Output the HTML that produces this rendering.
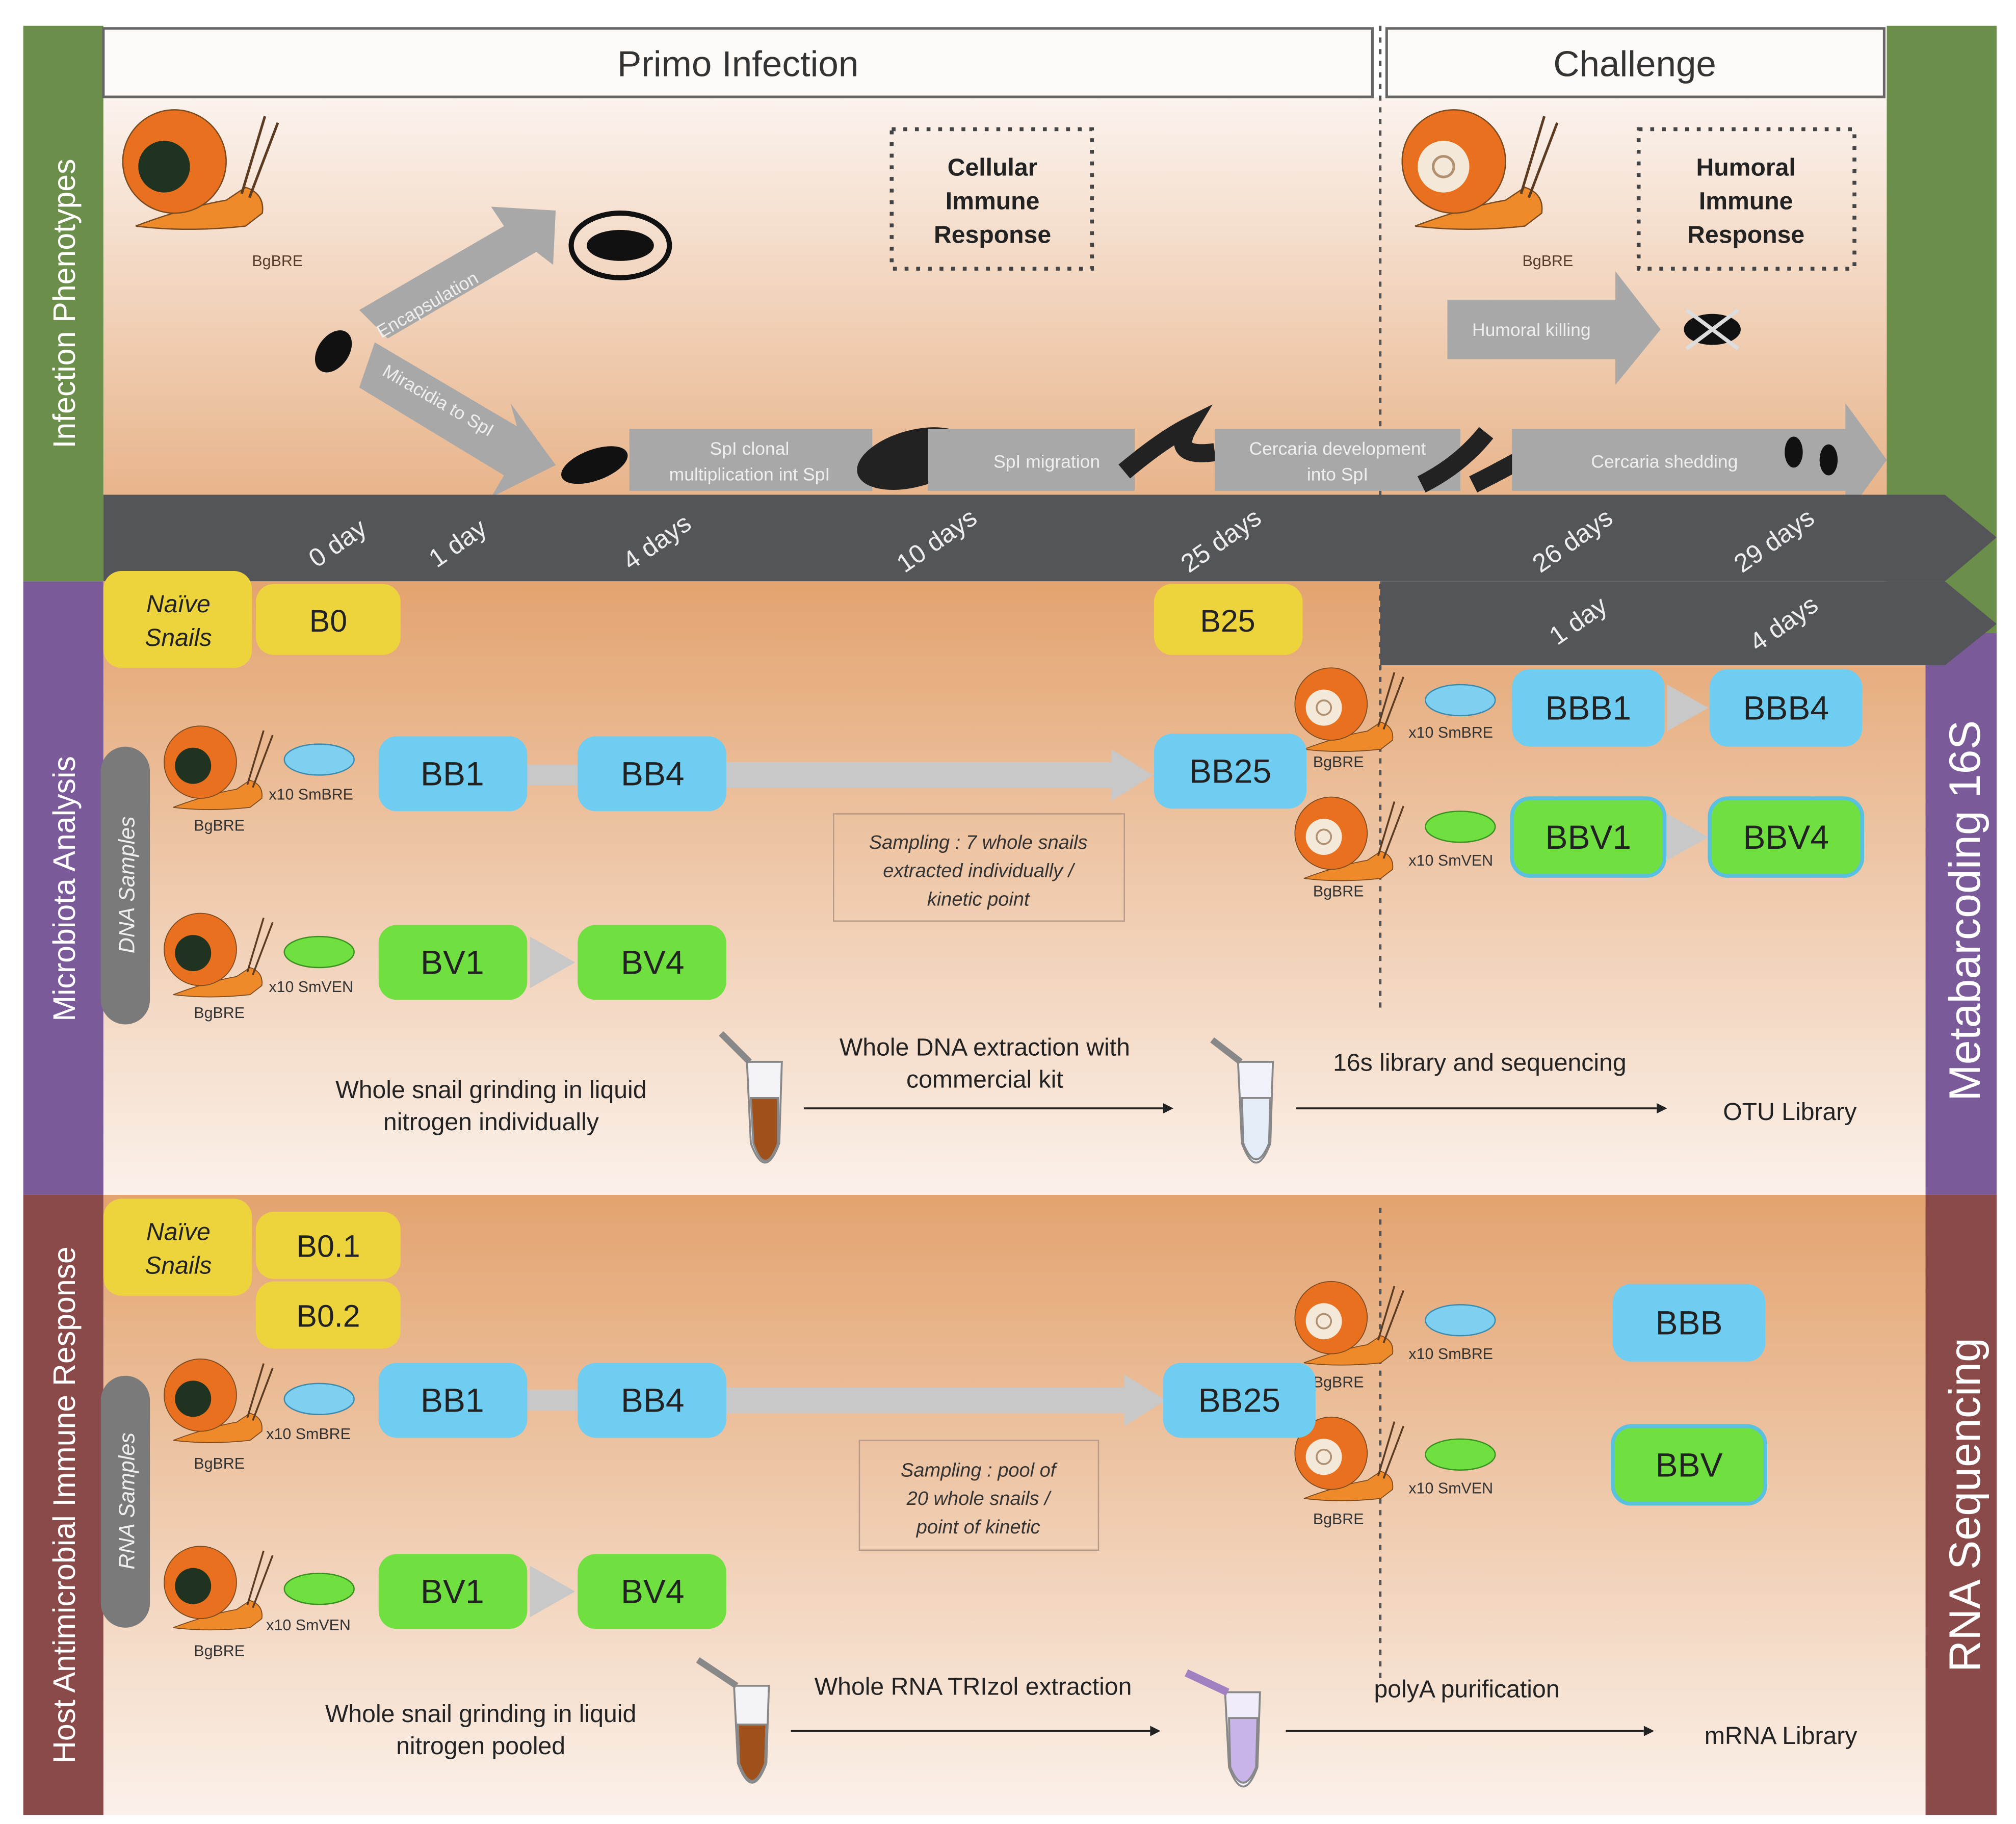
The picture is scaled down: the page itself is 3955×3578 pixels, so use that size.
<!DOCTYPE html>
<html><head><meta charset="utf-8"><style>
html,body{margin:0;padding:0;background:#fff}
svg{display:block}
text{font-family:"Liberation Sans",sans-serif}
</style></head><body>
<svg width="3955" height="3578" viewBox="0 0 1560 1412" preserveAspectRatio="none" xmlns="http://www.w3.org/2000/svg">
<defs>
<linearGradient id="g1" x1="0" y1="0" x2="0" y2="1"><stop offset="0" stop-color="#fbf3ee"/><stop offset="1" stop-color="#e8b48a"/></linearGradient>
<linearGradient id="g2" x1="0" y1="0" x2="0" y2="1"><stop offset="0" stop-color="#e3a36f"/><stop offset="1" stop-color="#fbf1ea"/></linearGradient>
<g id="snail">
<path d="M-30,50 Q10,35 40,30 L55,20 Q70,25 68,40 L55,50 Q10,55 -30,50Z" fill="#ee8a2a" stroke="#7a4a20" stroke-width="1"/>
<circle cx="0" cy="0" r="40" fill="#e8701e" stroke="#7a4a20" stroke-width="1"/>
<circle cx="-8" cy="4" r="20" fill="#1f3320"/>
<path d="M52,25 L70,-35 M58,28 L80,-30" stroke="#5a3a20" stroke-width="2" fill="none"/>
</g>
<g id="snail2">
<path d="M-30,50 Q10,35 40,30 L55,20 Q70,25 68,40 L55,50 Q10,55 -30,50Z" fill="#ee8a2a" stroke="#7a4a20" stroke-width="1"/>
<circle cx="0" cy="0" r="40" fill="#e8701e" stroke="#7a4a20" stroke-width="1"/>
<circle cx="-8" cy="4" r="20" fill="#f4e8d8"/>
<circle cx="-8" cy="4" r="8" fill="none" stroke="#b09070" stroke-width="2"/>
<path d="M52,25 L70,-35 M58,28 L80,-30" stroke="#5a3a20" stroke-width="2" fill="none"/>
</g>
</defs>
<rect width="1560" height="1412" fill="#fff"/>
<!-- backgrounds -->
<rect x="80" y="75" width="1380" height="310" fill="url(#g1)"/>
<rect x="80" y="450" width="1410" height="475" fill="url(#g2)"/>
<rect x="80" y="925" width="1410" height="480" fill="url(#g2)"/>
<!-- side bands -->
<rect x="18" y="20" width="62" height="430" fill="#6b8f4a"/>
<rect x="18" y="450" width="62" height="475" fill="#7b5a9a"/>
<rect x="18" y="925" width="62" height="480" fill="#8a4a4a"/>
<rect x="1460" y="20" width="85" height="470" fill="#6b8f4a"/>
<rect x="1490" y="490" width="55" height="435" fill="#7b5a9a"/>
<rect x="1490" y="925" width="55" height="480" fill="#8a4a4a"/>
<text transform="translate(58,235) rotate(-90)" text-anchor="middle" font-size="24" fill="#fff">Infection Phenotypes</text>
<text transform="translate(58,688) rotate(-90)" text-anchor="middle" font-size="24" fill="#fff">Microbiota Analysis</text>
<text transform="translate(58,1165) rotate(-90)" text-anchor="middle" font-size="24" fill="#fff">Host Antimicrobial Immune Response</text>
<text transform="translate(1532,705) rotate(-90)" text-anchor="middle" font-size="34" fill="#fff">Metabarcoding 16S</text>
<text transform="translate(1532,1165) rotate(-90)" text-anchor="middle" font-size="34" fill="#fff">RNA Sequencing</text>
<!-- headers -->
<rect x="80" y="22" width="982" height="53" fill="#fdfaf7" stroke="#666" stroke-width="2"/>
<text x="571" y="59" text-anchor="middle" font-size="28" fill="#333">Primo Infection</text>
<rect x="1073" y="22" width="385" height="53" fill="#fdfaf7" stroke="#666" stroke-width="2"/>
<text x="1265" y="59" text-anchor="middle" font-size="28" fill="#333">Challenge</text>
<line x1="1068" y1="20" x2="1068" y2="780" stroke="#555" stroke-width="2" stroke-dasharray="4,5"/>
<line x1="1068" y1="935" x2="1068" y2="1300" stroke="#555" stroke-width="2" stroke-dasharray="4,5"/>
<!-- top section -->
<use href="#snail" x="135" y="125"/>
<text x="195" y="206" font-size="12" fill="#5a3a2a">BgBRE</text>
<use href="#snail2" x="1125" y="125"/>
<text x="1178" y="206" font-size="12" fill="#5a3a2a">BgBRE</text>
<rect x="690" y="100" width="155" height="108" fill="none" stroke="#444" stroke-width="3" stroke-dasharray="3,6"/>
<text x="768" y="136" text-anchor="middle" font-size="19" font-weight="bold" fill="#222">Cellular</text>
<text x="768" y="162" text-anchor="middle" font-size="19" font-weight="bold" fill="#222">Immune</text>
<text x="768" y="188" text-anchor="middle" font-size="19" font-weight="bold" fill="#222">Response</text>
<rect x="1268" y="100" width="167" height="108" fill="none" stroke="#444" stroke-width="3" stroke-dasharray="3,6"/>
<text x="1351" y="136" text-anchor="middle" font-size="19" font-weight="bold" fill="#222">Humoral</text>
<text x="1351" y="162" text-anchor="middle" font-size="19" font-weight="bold" fill="#222">Immune</text>
<text x="1351" y="188" text-anchor="middle" font-size="19" font-weight="bold" fill="#222">Response</text>
<!-- encapsulation arrow -->
<polygon points="278,240 390,175 380,160 430,163 428,205 415,195 300,262" fill="#a8a8a8"/>
<text transform="translate(295,262) rotate(-30)" font-size="14" fill="#eee">Encapsulation</text>
<polygon points="290,265 400,330 395,312 430,360 380,385 390,368 278,300" fill="#a8a8a8"/>
<text transform="translate(295,290) rotate(30)" font-size="14" fill="#eee">Miracidia to SpI</text>
<ellipse cx="258" cy="272" rx="12" ry="18" transform="rotate(35,258,272)" fill="#111"/>
<ellipse cx="480" cy="190" rx="38" ry="25" fill="none" stroke="#111" stroke-width="4"/>
<ellipse cx="480" cy="190" rx="26" ry="12" fill="#111"/>
<ellipse cx="460" cy="360" rx="27" ry="12" transform="rotate(-20,460,360)" fill="#111"/>
<rect x="487" y="332" width="188" height="48" fill="#a8a8a8"/>
<text x="580" y="352" text-anchor="middle" font-size="14" fill="#eee">SpI clonal</text>
<text x="580" y="372" text-anchor="middle" font-size="14" fill="#eee">multiplication int SpI</text>
<ellipse cx="707" cy="355" rx="45" ry="22" transform="rotate(-15,707,355)" fill="#222"/>
<rect x="718" y="332" width="160" height="48" fill="#a8a8a8"/>
<text x="810" y="362" text-anchor="middle" font-size="14" fill="#eee">SpI migration</text>
<path d="M870,365 Q900,340 920,330 Q905,355 940,350" stroke="#222" stroke-width="14" fill="none"/>
<rect x="940" y="332" width="190" height="48" fill="#a8a8a8"/>
<text x="1035" y="352" text-anchor="middle" font-size="14" fill="#eee">Cercaria development</text>
<text x="1035" y="372" text-anchor="middle" font-size="14" fill="#eee">into SpI</text>
<path d="M1100,375 Q1130,360 1150,335 M1140,375 Q1170,360 1195,345" stroke="#222" stroke-width="14" fill="none"/>
<polygon points="1170,332 1428,332 1428,312 1460,356 1428,400 1428,380 1170,380" fill="#a8a8a8"/>
<text x="1288" y="362" text-anchor="middle" font-size="14" fill="#eee">Cercaria shedding</text>
<ellipse cx="1388" cy="350" rx="7" ry="12" fill="#111"/><ellipse cx="1415" cy="356" rx="7" ry="12" fill="#111"/>
<polygon points="1120,232 1250,232 1250,210 1285,255 1250,298 1250,278 1120,278" fill="#a8a8a8"/>
<text x="1185" y="260" text-anchor="middle" font-size="14" fill="#eee">Humoral killing</text>
<ellipse cx="1325" cy="255" rx="22" ry="12" fill="#111"/>
<path d="M1305,240 L1345,270 M1345,240 L1305,270" stroke="#ddd" stroke-width="3"/>
<!-- timelines -->
<polygon points="80,383 1505,383 1545,416 1505,450 80,450" fill="#545558"/>
<polygon points="1068,450 1505,450 1545,483 1505,515 1068,515" fill="#545558"/>
<g font-size="20" fill="#eee">
<text transform="translate(245,440) rotate(-35)">0 day</text>
<text transform="translate(338,440) rotate(-35)">1 day</text>
<text transform="translate(488,442) rotate(-35)">4 days</text>
<text transform="translate(700,444) rotate(-35)">10 days</text>
<text transform="translate(920,444) rotate(-35)">25 days</text>
<text transform="translate(1192,444) rotate(-35)">26 days</text>
<text transform="translate(1348,444) rotate(-35)">29 days</text>
<text transform="translate(1205,500) rotate(-35)">1 day</text>
<text transform="translate(1360,505) rotate(-35)">4 days</text>
</g>
<!-- section 2 -->
<g font-size="24" fill="#222" text-anchor="middle">
<rect x="80" y="442" width="115" height="75" rx="14" fill="#eed43c"/>
<text x="138" y="474" font-size="19" font-style="italic">Naïve</text><text x="138" y="500" font-size="19" font-style="italic">Snails</text>
<rect x="198" y="452" width="112" height="55" rx="14" fill="#eed43c"/><text x="254" y="489">B0</text>
<rect x="893" y="452" width="115" height="55" rx="14" fill="#eed43c"/><text x="950" y="489">B25</text>
<rect x="80" y="928" width="115" height="75" rx="14" fill="#eed43c"/>
<text x="138" y="960" font-size="19" font-style="italic">Naïve</text><text x="138" y="986" font-size="19" font-style="italic">Snails</text>
<rect x="198" y="938" width="112" height="52" rx="14" fill="#eed43c"/><text x="254" y="973">B0.1</text>
<rect x="198" y="992" width="112" height="52" rx="14" fill="#eed43c"/><text x="254" y="1027">B0.2</text>
</g>
<rect x="78" y="578" width="38" height="215" rx="19" fill="#7a7a7a"/>
<text transform="translate(104,685) rotate(-90)" text-anchor="middle" font-size="17" font-style="italic" fill="#eee">DNA Samples</text>
<rect x="78" y="1065" width="38" height="195" rx="19" fill="#7a7a7a"/>
<text transform="translate(104,1162) rotate(-90)" text-anchor="middle" font-size="17" font-style="italic" fill="#eee">RNA Samples</text>
<use href="#snail" transform="translate(155,590) scale(0.7)"/>
<use href="#snail" transform="translate(155,735) scale(0.7)"/>
<use href="#snail" transform="translate(155,1080) scale(0.7)"/>
<use href="#snail" transform="translate(155,1225) scale(0.7)"/>
<use href="#snail2" transform="translate(1030,545) scale(0.7)"/>
<use href="#snail2" transform="translate(1030,645) scale(0.7)"/>
<use href="#snail2" transform="translate(1030,1020) scale(0.7)"/>
<use href="#snail2" transform="translate(1030,1125) scale(0.7)"/>
<g font-size="12" fill="#333">
<text x="150" y="643">BgBRE</text><text x="150" y="788">BgBRE</text><text x="150" y="1137">BgBRE</text><text x="150" y="1282">BgBRE</text>
<text x="1016" y="594">BgBRE</text><text x="1016" y="694">BgBRE</text><text x="1016" y="1074">BgBRE</text><text x="1016" y="1180">BgBRE</text>
<text x="208" y="619">x10 SmBRE</text><text x="208" y="768">x10 SmVEN</text><text x="206" y="1114">x10 SmBRE</text><text x="206" y="1262">x10 SmVEN</text>
<text x="1090" y="571">x10 SmBRE</text><text x="1090" y="670">x10 SmVEN</text><text x="1090" y="1052">x10 SmBRE</text><text x="1090" y="1156">x10 SmVEN</text>
</g>
<g>
<ellipse cx="247" cy="588" rx="27" ry="12" fill="#7fd0f0" stroke="#3a8ab0"/>
<ellipse cx="247" cy="737" rx="27" ry="12" fill="#6fe040" stroke="#3a9020"/>
<ellipse cx="247" cy="1083" rx="27" ry="12" fill="#7fd0f0" stroke="#3a8ab0"/>
<ellipse cx="247" cy="1230" rx="27" ry="12" fill="#6fe040" stroke="#3a9020"/>
<ellipse cx="1130" cy="542" rx="27" ry="12" fill="#7fd0f0" stroke="#3a8ab0"/>
<ellipse cx="1130" cy="640" rx="27" ry="12" fill="#6fe040" stroke="#3a9020"/>
<ellipse cx="1130" cy="1022" rx="27" ry="12" fill="#7fd0f0" stroke="#3a8ab0"/>
<ellipse cx="1130" cy="1126" rx="27" ry="12" fill="#6fe040" stroke="#3a9020"/>
</g>
<!-- connectors -->
<rect x="405" y="592" width="45" height="16" fill="#c8c8c8"/>
<polygon points="560,590 860,590 860,580 892,600 860,620 860,610 560,610" fill="#c8c8c8"/>
<polygon points="410,725 445,745 410,765" fill="#c8c8c8"/>
<polygon points="1290,530 1322,548 1290,566" fill="#c8c8c8"/>
<polygon points="1290,630 1322,648 1290,666" fill="#c8c8c8"/>
<rect x="405" y="1076" width="45" height="16" fill="#c8c8c8"/>
<polygon points="560,1074 870,1074 870,1064 902,1084 870,1104 870,1094 560,1094" fill="#c8c8c8"/>
<polygon points="410,1212 445,1232 410,1252" fill="#c8c8c8"/>
<g font-size="26" fill="#222" text-anchor="middle">
<rect x="293" y="570" width="115" height="58" rx="14" fill="#6fcdf2"/><text x="350" y="608">BB1</text>
<rect x="447" y="570" width="115" height="58" rx="14" fill="#6fcdf2"/><text x="505" y="608">BB4</text>
<rect x="893" y="568" width="118" height="58" rx="14" fill="#6fcdf2"/><text x="952" y="606">BB25</text>
<rect x="1170" y="518" width="118" height="60" rx="14" fill="#6fcdf2"/><text x="1229" y="557">BBB1</text>
<rect x="1323" y="518" width="118" height="60" rx="14" fill="#6fcdf2"/><text x="1382" y="557">BBB4</text>
<rect x="1170" y="618" width="118" height="60" rx="14" fill="#6fe040" stroke="#5ac0e0" stroke-width="3"/><text x="1229" y="657">BBV1</text>
<rect x="1323" y="618" width="118" height="60" rx="14" fill="#6fe040" stroke="#5ac0e0" stroke-width="3"/><text x="1382" y="657">BBV4</text>
<rect x="293" y="716" width="115" height="58" rx="14" fill="#6fe040"/><text x="350" y="754">BV1</text>
<rect x="447" y="716" width="115" height="58" rx="14" fill="#6fe040"/><text x="505" y="754">BV4</text>
<rect x="293" y="1055" width="115" height="58" rx="14" fill="#6fcdf2"/><text x="350" y="1093">BB1</text>
<rect x="447" y="1055" width="115" height="58" rx="14" fill="#6fcdf2"/><text x="505" y="1093">BB4</text>
<rect x="900" y="1055" width="118" height="58" rx="14" fill="#6fcdf2"/><text x="959" y="1093">BB25</text>
<rect x="1248" y="994" width="118" height="60" rx="14" fill="#6fcdf2"/><text x="1307" y="1033">BBB</text>
<rect x="1248" y="1104" width="118" height="60" rx="14" fill="#6fe040" stroke="#5ac0e0" stroke-width="3"/><text x="1307" y="1143">BBV</text>
<rect x="293" y="1203" width="115" height="58" rx="14" fill="#6fe040"/><text x="350" y="1241">BV1</text>
<rect x="447" y="1203" width="115" height="58" rx="14" fill="#6fe040"/><text x="505" y="1241">BV4</text>
</g>
<rect x="645" y="630" width="225" height="83" fill="none" stroke="#b89a88"/>
<g font-size="15" font-style="italic" fill="#333" text-anchor="middle">
<text x="757" y="657">Sampling : 7 whole snails</text><text x="757" y="679">extracted individually /</text><text x="757" y="701">kinetic point</text>
</g>
<rect x="665" y="1115" width="185" height="85" fill="none" stroke="#b89a88"/>
<g font-size="15" font-style="italic" fill="#333" text-anchor="middle">
<text x="757" y="1143">Sampling : pool of</text><text x="757" y="1165">20 whole snails /</text><text x="757" y="1187">point of kinetic</text>
</g>
<!-- protocol rows -->
<g font-size="19" fill="#222" text-anchor="middle">
<text x="380" y="850">Whole snail grinding in liquid</text><text x="380" y="875">nitrogen individually</text>
<text x="762" y="817">Whole DNA extraction with</text><text x="762" y="842">commercial kit</text>
<text x="1145" y="829">16s library and sequencing</text>
<text x="1385" y="867">OTU Library</text>
<text x="372" y="1333">Whole snail grinding in liquid</text><text x="372" y="1358">nitrogen pooled</text>
<text x="753" y="1312">Whole RNA TRIzol extraction</text>
<text x="1135" y="1314">polyA purification</text>
<text x="1378" y="1350">mRNA Library</text>
</g>
<g stroke="#222" stroke-width="1.5">
<line x1="622" y1="858" x2="900" y2="858"/><line x1="1003" y1="858" x2="1282" y2="858"/>
<line x1="612" y1="1340" x2="890" y2="1340"/><line x1="995" y1="1340" x2="1272" y2="1340"/>
</g>
<g fill="#222">
<polygon points="900,854 908,858 900,862"/><polygon points="1282,854 1290,858 1282,862"/>
<polygon points="890,1336 898,1340 890,1344"/><polygon points="1272,1336 1280,1340 1272,1344"/>
</g>
<!-- tubes -->
<g stroke="#888" stroke-width="1.5">
<path d="M578,822 L605,822 L603,885 Q592,915 581,885Z" fill="#f4f4f8"/>
<path d="M581,850 L602,850 L602,885 Q592,912 583,885Z" fill="#a0501a"/>
<path d="M558,800 L580,822" stroke-width="5"/>
<path d="M958,822 L985,822 L983,885 Q972,915 961,885Z" fill="#f0f4fa"/>
<path d="M961,850 L983,850 L982,885 Q972,910 962,885Z" fill="#e4ecf8"/>
<path d="M938,805 L960,822" stroke-width="5"/>
<path d="M568,1305 L595,1305 L593,1365 Q582,1395 571,1365Z" fill="#f4f4f8"/>
<path d="M571,1335 L593,1335 L592,1365 Q582,1392 572,1365Z" fill="#a0501a"/>
<path d="M540,1285 L570,1305" stroke-width="5"/>
<path d="M948,1310 L975,1310 L973,1368 Q962,1398 951,1368Z" fill="#f0ecf8"/>
<path d="M951,1330 L973,1330 L972,1368 Q962,1392 952,1368Z" fill="#c8b4e8"/>
<path d="M918,1295 L950,1310" stroke="#a080c0" stroke-width="6"/>
</g>
</svg>
</body></html>
